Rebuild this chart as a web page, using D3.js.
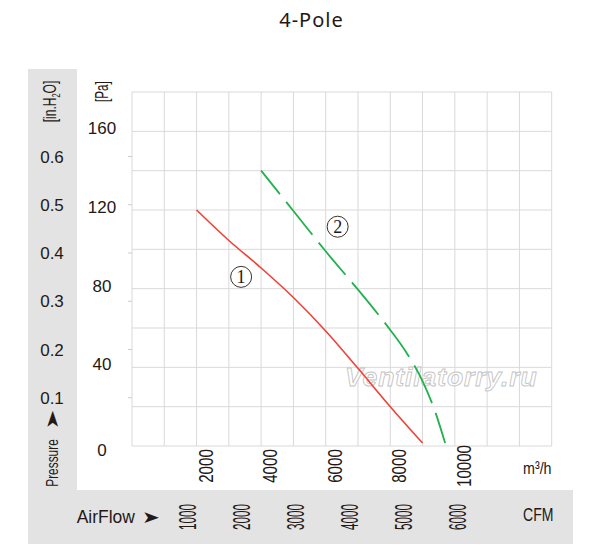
<!DOCTYPE html>
<html>
<head>
<meta charset="utf-8">
<script src="https://cdn.jsdelivr.net/npm/d3@7"></script>
<style>
  body { margin: 0; background: #fff; }
</style>
</head>
<body>
<div class="container"></div>
<script>
// chart values
var flowTicks = [2000, 4000, 6000, 8000, 10000];      // m3/h
var cfmTicks = [1000, 2000, 3000, 4000, 5000, 6000];  // CFM
var paTicks = [0, 40, 80, 120, 160];                  // Pa
var inH2OTicks = [0.1, 0.2, 0.3, 0.4, 0.5, 0.6];      // in.H2O

// curve 1 (solid red)
var curve1Flow = [2000, 3000, 4000, 5000, 6000, 7000, 8000, 9000];
var curve1Pa = [120, 104.5, 90.5, 75.5, 58.5, 39.5, 20, 1.5];
// curve 2 (dashed green)
var curve2Flow = [4000, 5000, 6000, 7000, 7500, 8000, 8500, 9000, 9400, 9700];
var curve2Pa = [140, 119.5, 99, 79.5, 69.5, 59, 47.5, 33, 17, 1.5];

var curveLabels = ['1', '2'];
var curveLabelFlow = [3380, 6370];
var curveLabelPa = [86, 111.5];

var ink = '#231815';

drawChart();

function drawChart() {
    var svg = d3.select('.container')
        .append('svg')
        .attr('width', 600)
        .attr('height', 557);

    // gray L shaped panel for the secondary units
    svg.append('rect').attr('x', 28).attr('y', 69).attr('width', 49).attr('height', 475).attr('fill', '#e3e3e3');
    svg.append('rect').attr('x', 28).attr('y', 490).attr('width', 545).attr('height', 54).attr('fill', '#e3e3e3');

    var x = d3.scaleLinear().domain([0, 13000]).range([132, 551.7]);
    var y = d3.scaleLinear().domain([0, 180]).range([446, 92]);
    var yIn = d3.scaleLinear().domain([0, 0.6]).range([446, 156.5]);
    // CFM labels are placed on their own printed scale
    var xCfm = d3.scaleLinear().domain([1000, 6000]).range([188, 458]);

    // grid
    var grid = svg.append('g').attr('stroke', '#d9d9d9').attr('stroke-width', 1);
    grid.selectAll('line.v')
        .data(x.ticks(13))
        .enter().append('line')
        .attr('class', 'v')
        .attr('x1', function (d) { return x(d) }).attr('x2', function (d) { return x(d) })
        .attr('y1', y(0)).attr('y2', y(180));
    grid.selectAll('line.h')
        .data(y.ticks(9))
        .enter().append('line')
        .attr('class', 'h')
        .attr('x1', x(0)).attr('x2', x(13000))
        .attr('y1', function (d) { return y(d) }).attr('y2', function (d) { return y(d) });

    // small ticks for in.H2O
    svg.append('g').selectAll('line')
        .data(inH2OTicks)
        .enter().append('line')
        .attr('x1', x(0) - 4).attr('x2', x(0))
        .attr('y1', function (d) { return yIn(d) }).attr('y2', function (d) { return yIn(d) })
        .attr('stroke', '#cccccc');

    // watermark
    svg.append('text')
        .attr('x', 345).attr('y', 386)
        .attr('font-family', 'Liberation Sans, Arial, sans-serif')
        .attr('font-weight', 'bold')
        .attr('font-style', 'italic')
        .attr('font-size', '26.5px')
        .attr('letter-spacing', '0.9px')
        .attr('fill', '#ffffff')
        .attr('fill-opacity', 0.75)
        .attr('stroke', '#c4c4c4')
        .attr('stroke-width', 0.9)
        .text('Ventilatorry.ru');

    // curves
    var line = d3.line()
        .x(function (d) { return x(d[0]) })
        .y(function (d) { return y(d[1]) })
        .curve(d3.curveMonotoneX);

    svg.append('path')
        .datum(d3.zip(curve1Flow, curve1Pa))
        .attr('d', line)
        .attr('fill', 'none')
        .attr('stroke', '#ef4136')
        .attr('stroke-width', 1.6);

    svg.append('path')
        .datum(d3.zip(curve2Flow, curve2Pa))
        .attr('d', line)
        .attr('fill', 'none')
        .attr('stroke', '#22b14c')
        .attr('stroke-width', 1.8)
        .attr('stroke-dasharray', '42 10')
        .attr('stroke-dashoffset', 12);

    // circled curve numbers
    var marks = svg.append('g').selectAll('g')
        .data(curveLabels)
        .enter().append('g')
        .attr('transform', function (d, i) {
            return 'translate(' + x(curveLabelFlow[i]) + ',' + y(curveLabelPa[i]) + ')';
        });
    marks.append('circle').attr('r', 10.5).attr('fill', 'none').attr('stroke', ink).attr('stroke-width', 0.9);
    marks.append('text')
        .attr('text-anchor', 'middle')
        .attr('dy', '0.34em')
        .attr('font-family', 'Liberation Serif, serif')
        .attr('font-size', '18px')
        .attr('fill', ink)
        .text(function (d) { return d });

    var sans = 'Liberation Sans, Arial, sans-serif';

    // Pa labels
    svg.append('g').selectAll('text')
        .data(paTicks)
        .enter().append('text')
        .attr('x', 102)
        .attr('y', function (d) { return y(d) + (d === 0 ? 4 : -3) })
        .attr('dy', '0.36em')
        .attr('text-anchor', 'middle')
        .attr('font-family', sans)
        .attr('font-size', '17px')
        .attr('fill', ink)
        .text(function (d) { return d });

    // in.H2O labels
    svg.append('g').selectAll('text')
        .data(inH2OTicks)
        .enter().append('text')
        .attr('x', 52)
        .attr('y', function (d) { return yIn(d) })
        .attr('dy', '0.36em')
        .attr('text-anchor', 'middle')
        .attr('font-family', sans)
        .attr('font-size', '17px')
        .attr('fill', ink)
        .text(function (d) { return d3.format('.1f')(d) });

    // m3/h labels, rotated and condensed
    svg.append('g').selectAll('text')
        .data(flowTicks)
        .enter().append('text')
        .attr('transform', function (d) { return 'translate(' + (x(d) + 8.5) + ',466) rotate(-90) scale(0.72,1)' })
        .attr('dy', '0.36em')
        .attr('text-anchor', 'middle')
        .attr('font-family', sans)
        .attr('font-size', '21px')
        .attr('fill', ink)
        .text(function (d) { return d });

    // CFM labels
    svg.append('g').selectAll('text')
        .data(cfmTicks)
        .enter().append('text')
        .attr('transform', function (d) { return 'translate(' + xCfm(d) + ',517) rotate(-90) scale(0.51,1)' })
        .attr('dy', '0.36em')
        .attr('text-anchor', 'middle')
        .attr('font-family', sans)
        .attr('font-size', '23px')
        .attr('fill', ink)
        .text(function (d) { return d });

    // unit captions
    var inLabel = svg.append('text')
        .attr('transform', 'translate(50,101.5) rotate(-90) scale(0.67,1)')
        .attr('dy', '0.33em')
        .attr('text-anchor', 'middle')
        .attr('font-family', sans)
        .attr('font-size', '18px')
        .attr('fill', ink);
    inLabel.append('tspan').text('[in.H');
    inLabel.append('tspan').attr('font-size', '11px').attr('dy', '0.35em').text('2');
    inLabel.append('tspan').attr('dy', '-0.22em').text('O]');

    svg.append('text')
        .attr('transform', 'translate(101.7,91.7) rotate(-90) scale(0.65,1)')
        .attr('dy', '0.33em')
        .attr('text-anchor', 'middle')
        .attr('font-family', sans)
        .attr('font-size', '18px')
        .attr('fill', ink)
        .text('[Pa]');

    svg.append('text')
        .attr('transform', 'translate(52,463) rotate(-90) scale(0.7,1)')
        .attr('dy', '0.36em')
        .attr('text-anchor', 'middle')
        .attr('font-family', sans)
        .attr('font-size', '17px')
        .attr('fill', ink)
        .text('Pressure');

    svg.append('text')
        .attr('transform', 'translate(52,419.5) rotate(-90) scale(1.4,1)')
        .attr('dy', '0.35em')
        .attr('text-anchor', 'middle')
        .attr('font-family', 'DejaVu Sans, sans-serif')
        .attr('font-size', '17px')
        .attr('fill', ink)
        .text('\u27A4');

    svg.append('text')
        .attr('transform', 'translate(76.7,522.7) scale(0.97,1)')
        .attr('font-family', sans)
        .attr('font-size', '18px')
        .attr('fill', ink)
        .text('AirFlow');

    svg.append('text')
        .attr('transform', 'translate(151,516.7) scale(1.25,1)')
        .attr('dy', '0.35em')
        .attr('text-anchor', 'middle')
        .attr('font-family', 'DejaVu Sans, sans-serif')
        .attr('font-size', '17px')
        .attr('fill', ink)
        .text('\u27A4');

    svg.append('text')
        .attr('transform', 'translate(523,474) scale(0.84,1)')
        .attr('font-family', sans)
        .attr('font-size', '17px')
        .attr('fill', ink)
        .text('m\u00B3/h');

    svg.append('text')
        .attr('transform', 'translate(523,521) scale(0.78,1)')
        .attr('font-family', sans)
        .attr('font-size', '18px')
        .attr('fill', ink)
        .text('CFM');

    // title
    svg.append('text')
        .attr('x', 311.5).attr('y', 26.7)
        .attr('text-anchor', 'middle')
        .attr('font-family', 'Noto Sans, sans-serif')
        .attr('font-size', '20px')
        .attr('letter-spacing', '1px')
        .attr('fill', ink)
        .text('4-Pole');
}
</script>
</body>
</html>
